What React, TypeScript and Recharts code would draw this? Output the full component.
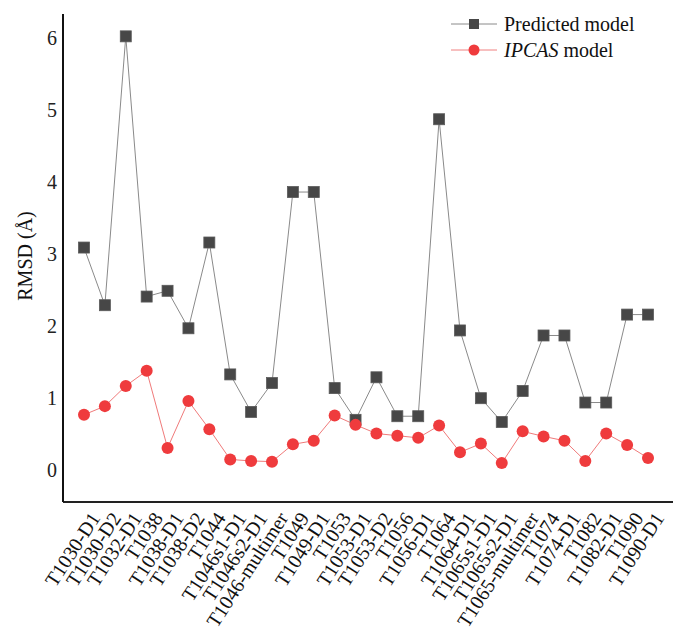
import { LineChart, Line, XAxis, YAxis } from 'recharts'

// CASP targets on the x axis
const targets = [
    'T1030-D1', 'T1030-D2', 'T1032-D1', 'T1038', 'T1038-D1', 'T1038-D2', 'T1044',
    'T1046s1-D1', 'T1046s2-D1', 'T1046-multimer', 'T1049', 'T1049-D1', 'T1053',
    'T1053-D1', 'T1053-D2', 'T1056', 'T1056-D1', 'T1064', 'T1064-D1', 'T1065s1-D1',
    'T1065s2-D1', 'T1065-multimer', 'T1074', 'T1074-D1', 'T1082', 'T1082-D1',
    'T1090', 'T1090-D1',
]

// RMSD (Å) per target
const predicted = [
    3.09, 2.29, 6.02, 2.41, 2.49, 1.97, 3.16, 1.33, 0.81, 1.21, 3.86, 3.86, 1.14,
    0.70, 1.29, 0.75, 0.75, 4.87, 1.94, 1.00, 0.67, 1.10, 1.87, 1.87, 0.94, 0.94,
    2.16, 2.16,
]
const ipcas = [
    0.77, 0.89, 1.17, 1.38, 0.31, 0.96, 0.57, 0.15, 0.13, 0.12, 0.36, 0.41, 0.76,
    0.63, 0.51, 0.48, 0.45, 0.62, 0.25, 0.37, 0.10, 0.54, 0.47, 0.41, 0.13, 0.51,
    0.35, 0.17,
]
const yTicks = [0, 1, 2, 3, 4, 5, 6]

const data = targets.map((t, i) => ({ target: t, predicted: predicted[i], ipcas: ipcas[i] }))

const FONT = '"Liberation Serif", "Times New Roman", serif'

const SquareDot = (props: any) => {
    const { cx, cy, index } = props
    return <rect key={`sq-${index}`} x={cx - 5.5} y={cy - 5.5} width={11} height={11} fill="#474747" stroke="#5a5a5a" strokeWidth={0.8} />
}

const CircleDot = (props: any) => {
    const { cx, cy, index } = props
    return <circle key={`ci-${index}`} cx={cx} cy={cy} r={6} fill="#ef3b3d" />
}

const XTick = (props: any) => {
    const { x, y, payload } = props
    return (
        <g transform={`translate(${x + 17},${y + 16})`}>
            <text textAnchor="end" transform="rotate(-57)" fontFamily={FONT} fontSize={20} fill="#111">
                {payload.value}
            </text>
        </g>
    )
}

const YLabel = () => (
    <text x={0} y={0} transform="translate(32,256) rotate(-90)" textAnchor="middle" fontFamily={FONT} fontSize={20} fill="#111">
        RMSD (Å)
    </text>
)

function ChartLegend() {
    const row = { display: 'flex', alignItems: 'center', height: 26 } as const
    return (
        <div style={{ position: 'absolute', left: 451, top: 11, fontFamily: FONT, fontSize: 20, color: '#111', lineHeight: '26px' }}>
            <div style={row}>
                <svg width={53} height={26}>
                    <line x1={0} y1={13} x2={46} y2={13} stroke="#8a8a8a" strokeWidth={1} />
                    <rect x={18} y={8} width={10} height={10} fill="#474747" />
                </svg>
                <span>Predicted model</span>
            </div>
            <div style={row}>
                <svg width={53} height={26}>
                    <line x1={0} y1={13} x2={46} y2={13} stroke="#f08080" strokeWidth={1} />
                    <circle cx={23} cy={13} r={5.5} fill="#ef3b3d" />
                </svg>
                <span><i>IPCAS</i> model</span>
            </div>
        </div>
    )
}

export default function App() {
    return (
        <div style={{ position: 'absolute', left: 0, top: 0, width: 673, height: 636, background: '#fff' }}>
            <LineChart width={673} height={636} data={data} margin={{ top: 14, right: 0, bottom: 0, left: 0 }}>
                <XAxis
                    dataKey="target"
                    height={134}
                    interval={0}
                    padding={{ left: 21, right: 25 }}
                    tickLine={false}
                    tickSize={0}
                    tickMargin={0}
                    axisLine={{ stroke: '#222', strokeWidth: 2 }}
                    tick={<XTick />}
                />
                <YAxis
                    width={63}
                    domain={[-0.44, 6.33]}
                    ticks={yTicks}
                    allowDataOverflow
                    tickLine={false}
                    tickSize={0}
                    tickMargin={6}
                    axisLine={{ stroke: '#111', strokeWidth: 2 }}
                    tick={{ fontFamily: FONT, fontSize: 20, fill: '#222' }}
                    label={{ content: () => <YLabel /> }}
                />
                <Line
                    dataKey="predicted"
                    stroke="#8a8a8a"
                    strokeWidth={1}
                    dot={SquareDot}
                    activeDot={false}
                    isAnimationActive={false}
                />
                <Line
                    dataKey="ipcas"
                    stroke="#f07a7a"
                    strokeWidth={1}
                    dot={CircleDot}
                    activeDot={false}
                    isAnimationActive={false}
                />
            </LineChart>
            <ChartLegend />
        </div>
    )
}
